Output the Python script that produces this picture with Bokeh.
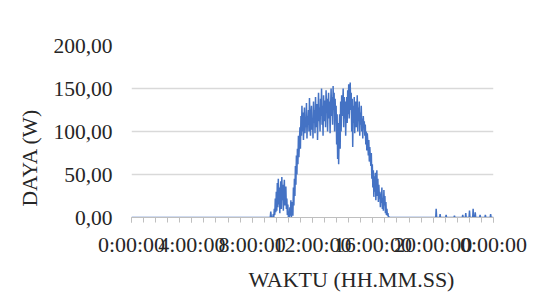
import math
from bokeh.plotting import figure
from bokeh.models import Range1d, FixedTicker, Title
from bokeh.embed import file_html
from bokeh.resources import INLINE

# ---- data (hours, watts) ----
day_start_hour = 9.0
day_step_min = 2
day_watts = [
    0, 0, 0, 0, 0, 0, 0, 7, 1, 0, 0, 0, 4, 0, 10, 3, 22, 6, 30, 8, 40, 12,
    45, 15, 35, 5, 28, 42, 10, 47, 20, 38, 8, 30, 44, 14, 25, 36, 10, 22, 3, 15,
    0, 6, 0, 12, 2, 20, 0, 8, 18, 2, 35, 14, 45, 25, 60, 38, 72, 50, 80, 62,
    95, 70, 88, 105, 80, 118, 95, 130, 100, 122, 90, 112, 128, 98, 115, 105,
    133, 92, 118, 108, 125, 100, 139, 110, 95, 120, 130, 102, 115, 92, 135, 110,
    125, 98, 140, 115, 105, 132, 90, 120, 145, 112, 128, 100, 138, 118, 150, 108,
    130, 95, 142, 120, 112, 136, 105, 148, 125, 138, 100, 130, 145, 115, 135, 98,
    128, 150, 118, 140, 108, 153, 125, 145, 100, 138, 115, 130, 85, 120, 68, 110,
    62, 95, 120, 80, 135, 100, 142, 118, 128, 150, 105, 140, 115, 135, 95, 125,
    140, 110, 148, 120, 155, 115, 135, 157, 125, 145, 100, 138, 82, 130, 110, 140,
    98, 125, 135, 105, 120, 142, 100, 128, 112, 135, 95, 122, 108, 130, 100, 115,
    92, 118, 105, 112, 95, 108, 85, 100, 78, 98, 88, 72, 90, 65, 82, 70,
    60, 75, 45, 62, 35, 55, 24, 48, 30, 52, 20, 40, 55, 25, 45, 18,
    38, 22, 30, 12, 28, 17, 35, 10, 22, 8, 32, 14, 25, 5, 18, 3,
    10, 2, 5, 0, 1, 0, 0, 0,
]
night_hours = [17.5, 20.17, 20.2, 20.23, 20.43, 20.46, 20.49, 20.83, 20.86, 20.89,
               21.38, 21.41, 21.44, 21.93, 21.96, 21.99, 22.13, 22.16, 22.19,
               22.38, 22.41, 22.44, 22.62, 22.65, 22.68, 22.76, 22.79, 22.82,
               23.08, 23.11, 23.14, 23.43, 23.46, 23.49, 23.78, 23.81, 23.84, 24.0]
night_watts = [0, 0, 10, 0, 0, 4, 0, 0, 3, 0,
               0, 2, 0, 0, 3, 0, 0, 5, 0,
               0, 8, 0, 0, 10, 0, 0, 6, 0,
               0, 3, 0, 0, 3, 0, 0, 4, 0, 0]

hour_ticks = [0, 4, 8, 12, 16, 20, 24]
hour_labels = ["0:00:00", "4:00:00", "8:00:00", "12:00:00", "16:00:00", "20:00:00", "0:00:00"]
watt_ticks = [0, 50, 100, 150, 200]
watt_labels = ["0,00", "50,00", "100,00", "150,00", "200,00"]

day_hours = [day_start_hour + i * day_step_min / 60.0 for i in range(len(day_watts))]
hours = [0.0] + day_hours + night_hours
watts = [0] + day_watts + night_watts

FONT = "Liberation Serif"
TXT = "#262626"

p = figure(width=537, height=296, output_backend="svg", toolbar_location=None,
           x_range=Range1d(0, 24), y_range=Range1d(0, 200),
           min_border_left=131, min_border_right=44, min_border_top=45, min_border_bottom=78)
p.outline_line_color = None
p.background_fill_color = "white"
p.border_fill_color = "white"

p.line(hours, watts, line_color="#4472C4", line_width=1.5)

p.xgrid.grid_line_color = None
p.ygrid.grid_line_color = "#D9D9D9"
p.ygrid.grid_line_width = 1.5

p.xaxis.ticker = FixedTicker(ticks=hour_ticks, minor_ticks=[i * 0.8 for i in range(31)])
p.xaxis.major_label_overrides = {t: l for t, l in zip(hour_ticks, hour_labels)}
p.xaxis.axis_line_color = "#BFBFBF"
p.xaxis.major_tick_line_color = "#BFBFBF"
p.xaxis.minor_tick_line_color = "#BFBFBF"
p.xaxis.major_tick_in = 0
p.xaxis.major_tick_out = 5
p.xaxis.minor_tick_in = 0
p.xaxis.minor_tick_out = 5
p.xaxis.major_label_standoff = 9
p.xaxis.major_label_text_font_size = "22px"

p.yaxis.ticker = FixedTicker(ticks=watt_ticks)
p.yaxis.major_label_overrides = {t: l for t, l in zip(watt_ticks, watt_labels)}
p.yaxis.axis_line_color = None
p.yaxis.major_tick_line_color = None
p.yaxis.minor_tick_line_color = None
p.yaxis.major_tick_out = 0
p.yaxis.major_tick_in = 0
p.yaxis.major_label_standoff = 19
p.yaxis.major_label_text_font_size = "21.5px"

for ax in (p.xaxis, p.yaxis):
    ax.major_label_text_font = FONT
    ax.major_label_text_color = TXT

p.add_layout(Title(text="WAKTU (HH.MM.SS)", align="left", offset=117,
                   text_font=FONT, text_font_size="22px", text_font_style="normal",
                   text_color=TXT), "below")
p.add_layout(Title(text="DAYA (W)", align="left", offset=11, standoff=17,
                   text_font=FONT, text_font_size="21.5px", text_font_style="normal",
                   text_color=TXT), "left")

open("out.html", "w").write(file_html(p, INLINE))
